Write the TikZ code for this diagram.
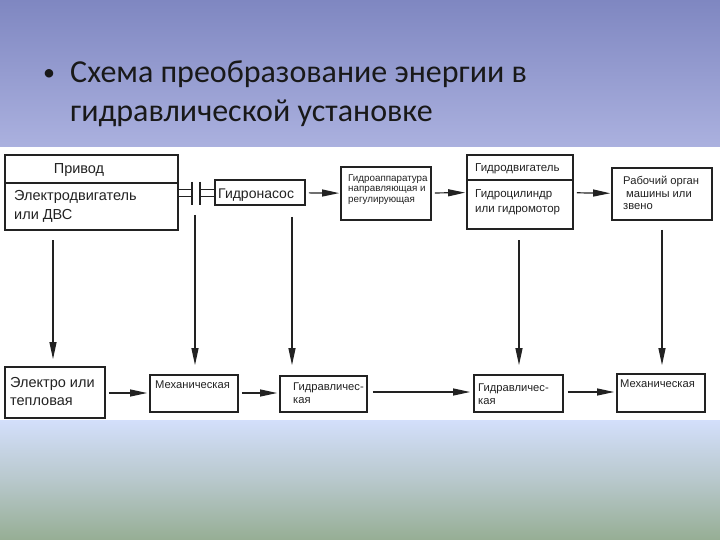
\documentclass[tikz,border=0pt]{standalone}
\usepackage{fontspec}
\setmainfont{Liberation Sans}
\newfontfamily\titlefont{Carlito}
\usetikzlibrary{arrows.meta}
\definecolor{topA}{HTML}{7F87C1}
\definecolor{topB}{HTML}{ABB1DF}
\definecolor{botA}{HTML}{D3DFFB}
\definecolor{botM}{HTML}{B8C8CC}
\definecolor{botB}{HTML}{96AE94}
\definecolor{ink}{HTML}{222222}
\tikzset{
  box/.style={draw=ink, line width=1.8pt, inner sep=0pt, fill=white},
  lbl/.style={anchor=base west, inner sep=0pt, text=ink},
  flow/.style={draw=ink, line width=1.2pt, -{Triangle[length=17pt,width=7pt]}},
  fA/.style={font=\fontsize{14.5}{17}\selectfont},
  fB/.style={font=\fontsize{11.5}{13}\selectfont},
  fC/.style={font=\fontsize{9.8}{11}\selectfont},
  fD/.style={font=\fontsize{11.2}{13}\selectfont},
  ttl/.style={anchor=base west, inner sep=0pt, text=black!90, font=\titlefont\fontsize{32}{38}\selectfont}
}
\begin{document}
\begin{tikzpicture}[x=1pt,y=-1pt]
\useasboundingbox (0,0) rectangle (720,540);
\shade[top color=topA,bottom color=topB] (0,0) rectangle (720,147);
\fill[white] (0,147) rectangle (720,420);
\shade[top color=botA,bottom color=botB,middle color=botM] (0,420) rectangle (720,540);

% title
\node[ttl, font=\titlefont\fontsize{24}{28}\selectfont] (bul) at (43,81) {•};
\node[ttl] (t1) at (70,83) {Схема преобразование энергии в};
\node[ttl] (t2) at (70,122) {гидравлической установке};

% top row boxes
\node[box, minimum width=173, minimum height=75] (priv) at (91.5,192.5) {};
\draw[ink, line width=1.5pt] (5,183) -- (178,183);
\node[box, minimum width=90, minimum height=25] (pump) at (260,192.5) {};
\node[box, minimum width=90, minimum height=53] (app) at (386,193.5) {};
\node[box, minimum width=106, minimum height=74] (motor) at (520,192) {};
\draw[ink, line width=1.5pt] (467,180) -- (573,180);
\node[box, minimum width=100, minimum height=52] (work) at (662,194) {};

% bottom row boxes
\node[box, minimum width=100, minimum height=51] (b1) at (55,392.5) {};
\node[box, minimum width=88, minimum height=37] (b2) at (194,393.5) {};
\node[box, minimum width=87, minimum height=36] (b3) at (323.5,394) {};
\node[box, minimum width=89, minimum height=37] (b4) at (518.5,393.5) {};
\node[box, minimum width=88, minimum height=38] (b5) at (661,393) {};

% texts
\node[fA, anchor=base, inner sep=0pt, text=ink] (tpriv) at (79,174) {Привод};
\node[fA, lbl] (tel1) at (14,201) {Электродвигатель};
\node[fA, lbl] (tel2) at (14,220) {или ДВС};
\node[font=\fontsize{14}{16}\selectfont, lbl] (tpump) at (218,199) {Гидронасос};
\node[fC, lbl] (ta1) at (348,182) {Гидроаппаратура};
\node[fC, lbl] (ta2) at (348,192) {направляющая и};
\node[fC, lbl] (ta3) at (348,203) {регулирующая};
\node[fB, lbl] (tm0) at (475,172) {Гидродвигатель};
\node[fB, lbl] (tm1) at (475,197) {Гидроцилиндр};
\node[fB, lbl] (tm2) at (475,212) {или гидромотор};
\node[fD, lbl] (tw1) at (623,185) {Рабочий орган};
\node[fD, lbl] (tw2) at (626,197) {машины или};
\node[fD, lbl] (tw3) at (623,210) {звено};

\node[fA, lbl] (tb11) at (10,387) {Электро или};
\node[fA, lbl] (tb12) at (10,405) {тепловая};
\node[fD, lbl] (tb2) at (155,388) {Механическая};
\node[fD, lbl] (tb31) at (293,390) {Гидравличес-};
\node[fD, lbl] (tb32) at (293,403) {кая};
\node[fD, lbl] (tb41) at (478,391) {Гидравличес-};
\node[fD, lbl] (tb42) at (478,404) {кая};
\node[fD, lbl] (tb5) at (620,387) {Механическая};

% coupling
\coordinate (ca) at (192,182);
\coordinate (cb) at (200,182);
\draw[ink, line width=1.5pt] (priv.east |- 0,189.5) -- (ca |- 0,189.5);
\draw[ink, line width=1.5pt] (priv.east |- 0,196.5) -- (ca |- 0,196.5);
\draw[ink, line width=2.2pt] (ca) -- ++(0,23);
\draw[ink, line width=2.2pt] (cb) -- ++(0,23);
\draw[ink, line width=1.5pt] (cb |- 0,189.5) -- (pump.west |- 0,189.5);
\draw[ink, line width=1.5pt] (cb |- 0,196.5) -- (pump.west |- 0,196.5);

% horizontal arrows
\draw[flow, shorten <=3pt, shorten >=1pt] (pump) -- (app);
\draw[flow, shorten <=3pt, shorten >=1pt] (app) -- (motor);
\draw[flow, shorten <=3pt, shorten >=1pt] (motor) -- (work);
\draw[flow, shorten <=3pt, shorten >=2pt] (b1.east |- 0,393) -- (b2.west |- 0,393);
\draw[flow, shorten <=3pt, shorten >=2pt] (b2.east |- 0,393) -- (b3.west |- 0,393);
\draw[flow, shorten <=5pt, shorten >=3pt] (b3.east |- 0,392) -- (b4.west |- 0,392);
\draw[flow, shorten <=4pt, shorten >=2pt] (b4.east |- 0,392) -- (b5.west |- 0,392);

% vertical arrows
\coordinate (v1) at (53,240);
\coordinate (v2) at (195,215);
\coordinate (v3) at (292,217);
\coordinate (v4) at (519,240);
\coordinate (v5) at (662,230);
\draw[flow, shorten >=7pt] (v1) -- (v1 |- b1.north);
\draw[flow, shorten >=9pt] (v2) -- (v2 |- b2.north);
\draw[flow, shorten >=10pt] (v3) -- (v3 |- b3.north);
\draw[flow, shorten >=9pt] (v4) -- (v4 |- b4.north);
\draw[flow, shorten >=8pt] (v5) -- (v5 |- b5.north);
\end{tikzpicture}
\end{document}
